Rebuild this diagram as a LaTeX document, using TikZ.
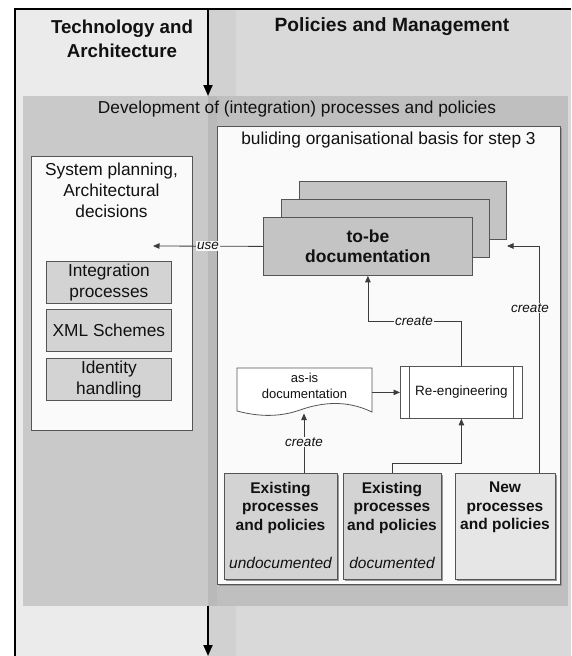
\documentclass[tikz,border=0pt]{standalone}
\usepackage{fontspec}
\setmainfont{Liberation Sans}
\usetikzlibrary{arrows.meta,shadows}

\definecolor{colL}{HTML}{EBEBEB}
\definecolor{colR}{HTML}{D9D9D9}
\definecolor{colRs}{HTML}{D1D1D1}
\definecolor{panL}{HTML}{C9C9C9}
\definecolor{panR}{HTML}{BFBFBF}
\definecolor{panRs}{HTML}{B9B9B9}
\definecolor{paper}{HTML}{FAFAFA}
\definecolor{boxgray}{HTML}{D3D3D3}
\definecolor{stackgray}{HTML}{C4C4C4}
\definecolor{newgray}{HTML}{E6E6E6}
\definecolor{edge}{HTML}{555555}
\definecolor{wire}{HTML}{3C3C3C}
\definecolor{ink}{HTML}{111111}

\tikzset{
  box/.style={draw=edge, line width=0.8pt, inner sep=0pt, anchor=north west},
  shadowed/.style={drop shadow={shadow xshift=1.6pt, shadow yshift=-1.6pt, fill=black!40, opacity=1}},
  txt/.style={text=ink, align=center, inner sep=0pt},
  lab/.style={text=ink, font=\fontsize{13.5}{16}\selectfont\itshape, fill=paper, inner sep=1pt},
  wirearrow/.style={draw=wire, line width=0.8pt, -{Triangle[length=6.5pt,width=5.5pt]}},
  flowarrow/.style={draw=black, line width=1.8pt, -{Triangle[length=11pt,width=9pt]}}
}

\begin{document}
\begin{tikzpicture}[x=1pt,y=-1pt]
\useasboundingbox (0,0) rectangle (571,656);

% two swimlanes
\fill[colL] (15,9) rectangle (208,656);
\fill[colR] (208,9) rectangle (571,656);
\fill[colRs] (208,9) rectangle (236,656);

% frame
\draw[line width=1.5pt] (15,656) -- (15,9) -- (571,9);

% lane headings
\node[txt, font=\fontsize{18.7}{23.5}\selectfont\bfseries] (hTech) at (122,39) {Technology and\\Architecture};
\node[txt, font=\fontsize{19.2}{23.5}\selectfont\bfseries] (hPol) at (392,27) {Policies and Management};

% development panel
\fill[panL] (23,96) rectangle (208,606);
\fill[panR] (208,96) rectangle (568,606);
\fill[panRs] (208,96) rectangle (217,606);
\node[txt, font=\fontsize{17.3}{21}\selectfont] (devTitle) at (297,109) {Development of (integration) processes and policies};

% flow in and out of the panel
\coordinate (inTop) at (208,9);
\coordinate (inEnd) at (208,96);
\coordinate (outStart) at (208,606);
\coordinate (outEnd) at (208,656);
\draw[flowarrow] (inTop) -- (inEnd);
\draw[flowarrow] (outStart) -- (outEnd);

% system planning column
\node[box, fill=paper, minimum width=161pt, minimum height=274pt] (sysplan) at (31,156) {};
\node[txt, font=\fontsize{17.3}{21}\selectfont] (sysTitle) at (111.5,190) {System planning,\\Architectural\\decisions};
\node[box, fill=boxgray, minimum width=125pt, minimum height=42pt, txt, font=\fontsize{17.3}{21}\selectfont] (integ) at (46,261) {Integration\\processes};
\node[box, fill=boxgray, minimum width=125pt, minimum height=42pt, txt, font=\fontsize{17.3}{21}\selectfont] (xml) at (46,309) {XML Schemes};
\node[box, fill=boxgray, minimum width=125pt, minimum height=42pt, txt, font=\fontsize{17.3}{21}\selectfont] (ident) at (46,358) {Identity\\handling};

% organisational basis container
\node[box, fill=paper, shadowed, minimum width=343pt, minimum height=458pt] (basis) at (217,126) {};
\node[txt, font=\fontsize{17.3}{21}\selectfont] (basisTitle) at (388.5,140) {buliding organisational basis for step 3};

% stack of to-be documents
\node[box, fill=stackgray, minimum width=207pt, minimum height=58pt] (back) at (299,181) {};
\node[box, fill=stackgray, minimum width=208pt, minimum height=58pt] (middle) at (281,199) {};
\node[box, fill=stackgray, minimum width=209pt, minimum height=58pt] (front) at (263,217) {};
\node[txt, font=\fontsize{17.5}{20}\selectfont\bfseries] (frontText) at (front.center) {to-be\\documentation};

% as-is document shape
\draw[draw=edge, line width=0.8pt, fill=white]
  (237,368) -- (372,368) -- (372,412)
  .. controls (345,399) and (320,403) .. (300,410)
  .. controls (280,417) and (260,417) .. (237,411) -- cycle;
\node[inner sep=0pt, minimum width=135pt, minimum height=43pt, anchor=north west] (asis) at (237,368) {};
\node[txt, font=\fontsize{13}{16}\selectfont] (asisText) at (304.5,386) {as-is\\documentation};
\coordinate (asisBottom) at (304,413.5);

% re-engineering process box
\node[box, fill=white, minimum width=122pt, minimum height=52pt] (reeng) at (400,366) {};
\draw[draw=edge, line width=0.8pt] (409,366) -- (409,418) (513,366) -- (513,418);
\node[txt, font=\fontsize{13.5}{16}\selectfont] (reengText) at (reeng.center) {Re-engineering};

% existing and new processes
\node[box, fill=boxgray, shadowed, minimum width=113pt, minimum height=106pt] (exUndoc) at (224,473) {};
\node[box, fill=boxgray, shadowed, minimum width=98pt, minimum height=106pt] (exDoc) at (343,473) {};
\node[box, fill=newgray, shadowed, minimum width=100pt, minimum height=106pt] (newProc) at (455,473) {};
\node[txt, font=\fontsize{15.5}{18.5}\selectfont\bfseries] at (280.5,507.5) {Existing\\processes\\and policies};
\node[txt, font=\fontsize{15.5}{18.5}\selectfont\itshape] at (280.5,563) {undocumented};
\node[txt, font=\fontsize{15.5}{18.5}\selectfont\bfseries] at (392,507.5) {Existing\\processes\\and policies};
\node[txt, font=\fontsize{15.5}{18.5}\selectfont\itshape] at (392,563) {documented};
\node[txt, font=\fontsize{15.5}{18.5}\selectfont\bfseries] at (505,507.5) {New\\processes\\and policies};

% connectors
\coordinate (useTip) at (153,246);
\draw[wirearrow] (front.west) -- (useTip);
\node[lab] at (208,246) {use};

\draw[wirearrow] (asis.east |- reeng.west) -- (reeng.west);

\draw[wirearrow] (exUndoc.north -| asisBottom) -- (asisBottom);
\node[lab] at (304,442) {create};

\draw[wirearrow] (exDoc.north) -- ++(0,-10) -| (reeng.south);

\draw[wirearrow] (reeng.north) -- ++(0,-45) -| (front.south);
\node[lab] at (414,321) {create};

\coordinate (newTip) at (507,246);
\draw[wirearrow] ([xshift=34pt]newProc.north) |- (newTip);
\node[lab] at (530,308) {create};

\end{tikzpicture}
\end{document}
